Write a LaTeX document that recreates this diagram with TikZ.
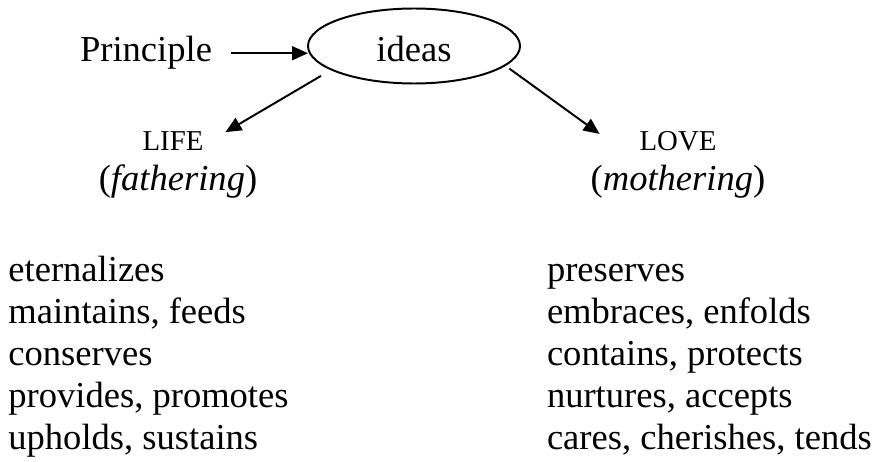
\documentclass[tikz,border=0pt]{standalone}
\usepackage{fontspec}
\setmainfont{Liberation Serif}
\usepackage{tikz}
\usetikzlibrary{shapes.geometric, arrows.meta, positioning, calc}

\tikzset{
    txt/.style={font=\fontsize{26}{30}\selectfont, inner sep=0pt, outer sep=0pt},
    caps/.style={font=\fontsize{20.5}{24}\selectfont, inner sep=0pt, outer sep=0pt},
    arr/.style={line width=1.4pt, -{Triangle[length=0.4cm, width=0.35cm]}}
}

\begin{document}
\begin{tikzpicture}
    \useasboundingbox (0,0) rectangle (22,-11.55);

    % Source and the ellipse
    \node[txt, anchor=base] (principle) at (3.65,-1.55) {Principle};
    \node[txt, ellipse, draw, line width=1.4pt, minimum width=5.3cm,
          minimum height=1.875cm, text height=0.78cm] (ideas) at (10.35,-1.15) {ideas\hspace{0.3cm}};
    \draw[arr, shorten <=0.48cm] (principle.east) -- (principle.east -| ideas.west);

    % The two branches
    \node[caps, anchor=base] (life) at (4.325,-3.775) {LIFE};
    \node[txt, anchor=base] (fathering) at (4.45,-4.77) {(\textit{fathering})};
    \node[caps, anchor=base] (love) at (16.95,-3.775) {LOVE};
    \node[txt, anchor=base] (mothering) at (16.95,-4.77) {(\textit{mothering})};

    \draw[arr, shorten <=0.31cm] (ideas.196) -- ([xshift=0.55cm]life.north east);
    \draw[arr, shorten <=0.14cm] (ideas.348) -- ([shift={(-1.0,-0.05)}]love.north west);

    % Word lists
    \foreach \word [count=\i] in {eternalizes, {maintains, feeds}, conserves,
        {provides, promotes}, {upholds, sustains}}
        \node[txt, anchor=base west] (lifeword\i) at (0.21,{-7.025-(\i-1)*1.056}) {\word};
    \foreach \word [count=\i] in {preserves, {embraces, enfolds}, {contains, protects},
        {nurtures, accepts}, {cares, cherishes, tends}}
        \node[txt, anchor=base west] (loveword\i) at (13.675,{-7.025-(\i-1)*1.056}) {\word};
\end{tikzpicture}
\end{document}
